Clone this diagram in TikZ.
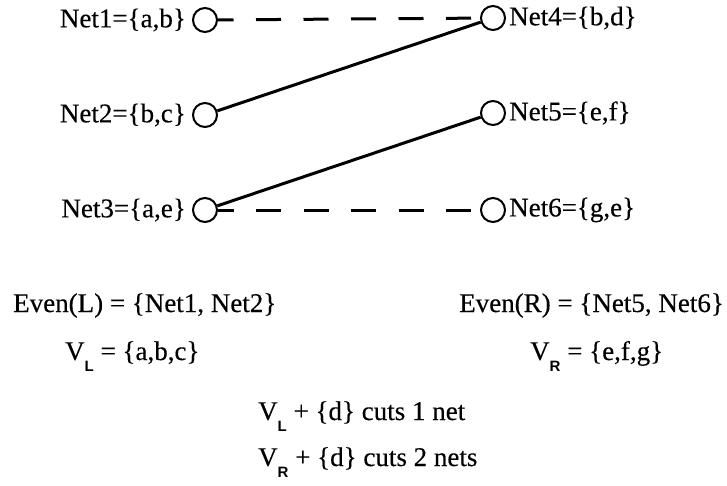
\documentclass[tikz,border=0pt]{standalone}
\usepackage{fontspec}
\setmainfont{Liberation Serif}[FakeBold=0.3]
\newfontfamily\subfont{Liberation Sans}
\newcommand{\sbx}[1]{\raisebox{-0.42em}{\subfont\bfseries\fontsize{15}{15}\selectfont #1}}
\begin{document}
\begin{tikzpicture}[x=1pt,y=-1pt,
  font=\fontsize{27}{30}\selectfont,
  pin/.style={circle,draw,line width=2pt,minimum size=24pt,inner sep=0pt},
  lbl/.style={inner sep=0pt},
  wire/.style={line width=3pt},
  dwire/.style={line width=3pt,dash pattern=on 25pt off 22.5pt,dash phase=9.5pt}]
\useasboundingbox (0,0) rectangle (727,485);
% circles
\node[pin] (n1) at (205,20) {};
\node[pin] (n2) at (205,115) {};
\node[pin] (n3) at (205,210) {};
\node[pin] (n4) at (493,18) {};
\node[pin] (n5) at (493,113) {};
\node[pin] (n6) at (493,210) {};
% labels
\node[lbl,anchor=east] (l1) at ([xshift=-6pt]n1.west) {Net1=\{a,b\}};
\node[lbl,anchor=east] (l2) at ([xshift=-6pt]n2.west) {Net2=\{b,c\}};
\node[lbl,anchor=east] (l3) at ([xshift=-6pt]n3.west) {Net3=\{a,e\}};
\node[lbl,anchor=west] (l4) at ([xshift=3pt]n4.east) {Net4=\{b,d\}};
\node[lbl,anchor=west] (l5) at ([xshift=3pt]n5.east) {Net5=\{e,f\}};
\node[lbl,anchor=west] (l6) at ([xshift=3pt]n6.east) {Net6=\{g,e\}};
% connectors
\draw[dwire] (n1) -- (n4);
\draw[wire] (n2) -- (n4);
\draw[wire] (n3) -- (n5);
\draw[dwire] (n3) -- (n6);
% bottom text
\node[lbl,anchor=base west] (evl) at (13,312) {Even(L) = \{Net1, Net2\}};
\node[lbl,anchor=base west] (vl) at (65,360) {V\sbx{L} = \{a,b,c\}};
\node[lbl,anchor=base east] (evr) at (724,312) {Even(R) = \{Net5, Net6\}};
\node[lbl,anchor=base west] (vr) at (530,360) {V\sbx{R} = \{e,f,g\}};
\node[lbl,anchor=base west] (c1) at (258,420) {V\sbx{L} + \{d\} cuts 1 net};
\node[lbl,anchor=base west] (c2) at (258,466) {V\sbx{R} + \{d\} cuts 2 nets};
\end{tikzpicture}
\end{document}
